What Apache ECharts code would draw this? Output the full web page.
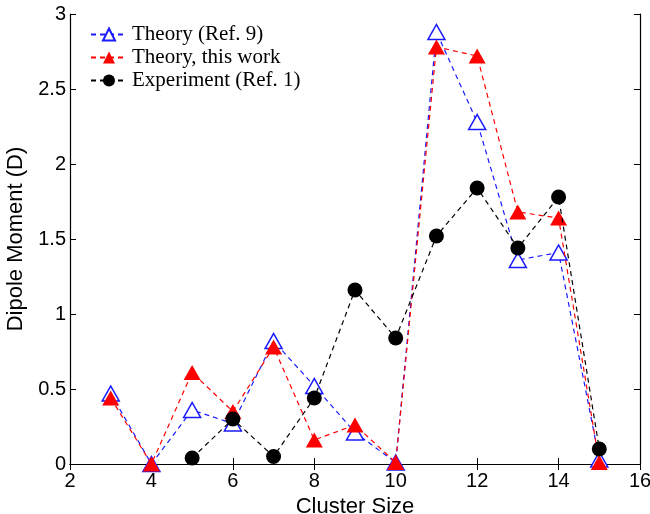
<!DOCTYPE html>
<html><head><meta charset="utf-8">
<script src="https://cdn.jsdelivr.net/npm/echarts@6/dist/echarts.min.js"></script>
<style>html,body{margin:0;padding:0;background:#fff}#c{width:650px;height:514px}</style>
</head><body><div id="c"></div>
<script>
const sizes = [3,4,5,6,7,8,9,10,11,12,13,14,15];
const theoryRef9 = [0.47,0.00,0.36,0.27,0.82,0.52,0.21,0.01,2.88,2.28,1.36,1.41,0.03];
const theoryThis = [0.44,0.00,0.61,0.35,0.78,0.16,0.26,0.01,2.78,2.72,1.68,1.64,0.01];
const expSizes = [5,6,7,8,9,10,11,12,13,14,15];
const experiment = [0.04,0.30,0.05,0.44,1.16,0.84,1.52,1.84,1.44,1.78,0.10];
const names = ['Theory (Ref. 9)','Theory, this work','Experiment (Ref. 1)'];

const pair = (xs, ys) => xs.map((x,i)=>[x,ys[i]]);
const chart = echarts.init(document.getElementById('c'));
const axLine = {show:true,lineStyle:{color:'#000',width:1.2}};
const axTick = {show:true,inside:true,length:6,lineStyle:{color:'#000'}};
const lab = {color:'#000',fontFamily:'Liberation Sans, Arial',fontSize:20};
const nameStyle = {color:'#000',fontFamily:'Liberation Sans, Arial',fontSize:22};
chart.setOption({
  animation:false,
  grid:{left:70,right:10,top:14,bottom:50,containLabel:false,outerBoundsMode:'none'},
  legend:{
    left:85, top:19, orient:'vertical', itemGap:2, itemWidth:36, itemHeight:15,
    textStyle:{fontFamily:'Liberation Serif, Times New Roman',fontSize:21,color:'#000'},
    data:names
  },
  xAxis:[
    {type:'value',min:2,max:16,interval:2,position:'bottom',axisLine:axLine,axisTick:axTick,splitLine:{show:false},
     axisLabel:Object.assign({margin:7},lab),
     name:'Cluster Size',nameLocation:'middle',nameGap:23,nameTextStyle:nameStyle},
    {type:'value',min:2,max:16,interval:2,position:'top',axisLine:axLine,axisTick:axTick,splitLine:{show:false},axisLabel:{show:false}}
  ],
  yAxis:[
    {type:'value',min:0,max:3,interval:0.5,position:'left',axisLine:axLine,axisTick:axTick,splitLine:{show:false},
     axisLabel:Object.assign({margin:4},lab),
     name:'Dipole Moment (D)',nameLocation:'middle',nameGap:32,nameTextStyle:nameStyle},
    {type:'value',min:0,max:3,interval:0.5,position:'right',axisLine:axLine,axisTick:axTick,splitLine:{show:false},axisLabel:{show:false}}
  ],
  series:[
    {name:names[0],type:'line',data:pair(sizes,theoryRef9),symbol:'triangle',symbolSize:[17,15],
     lineStyle:{color:'#1a1aff',width:1.2,type:[5,4]},
     itemStyle:{color:'#fff',borderColor:'#1a1aff',borderWidth:1.5},color:'#1a1aff',z:3},
    {name:names[1],type:'line',data:pair(sizes,theoryThis),symbol:'triangle',symbolSize:[17,15],
     lineStyle:{color:'#ff0000',width:1.2,type:[5,4]},
     itemStyle:{color:'#ff0000'},color:'#ff0000',z:4},
    {name:names[2],type:'line',data:pair(expSizes,experiment),symbol:'circle',symbolSize:15,
     lineStyle:{color:'#000',width:1.2,type:[5,4]},
     itemStyle:{color:'#000'},color:'#000',z:5}
  ]
});
</script></body></html>
